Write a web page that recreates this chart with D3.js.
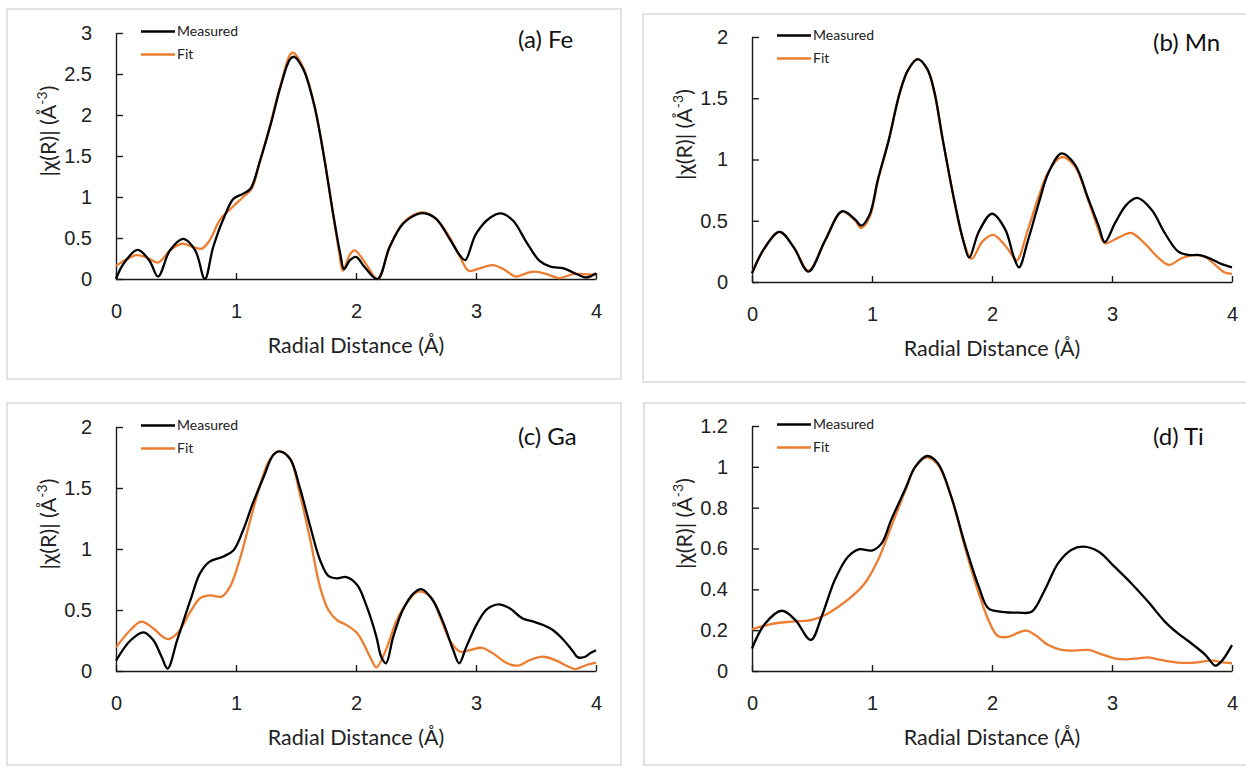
<!DOCTYPE html>
<html lang="en">
<head>
  <meta charset="UTF-8">
  <title>EXAFS fits</title>
  <script src="https://d3js.org/d3.v7.min.js"></script>
  <style>
    body { margin: 0; background: #fff; }
    svg { font-family: Lato, "Open Sans", sans-serif; }
    .axis path, .axis line { stroke: #1a1a1a; stroke-width: 1.4; }
    .axis text { font-size: 20px; fill: #222; }
  </style>
</head>
<body>
<svg id="chart" width="1246" height="769"></svg>
<script>
// data: [R (Å), |χ(R)|]
const feMeasured = [[0,0],[0.06,0.18],[0.18,0.355],[0.28,0.22],[0.35,0.03],[0.45,0.35],[0.56,0.49],[0.66,0.35],[0.74,0],[0.81,0.39],[0.9,0.75],[0.98,0.98],[1.06,1.04],[1.12,1.1],[1.2,1.44],[1.29,1.89],[1.37,2.34],[1.45,2.68],[1.485,2.71],[1.56,2.56],[1.65,2.13],[1.73,1.52],[1.81,0.79],[1.87,0.3],[1.9,0.12],[1.95,0.23],[2.0,0.27],[2.075,0.14],[2.18,0],[2.28,0.39],[2.39,0.67],[2.51,0.79],[2.575,0.8],[2.67,0.73],[2.78,0.49],[2.87,0.28],[2.91,0.23],[3.0,0.55],[3.12,0.75],[3.21,0.8],[3.31,0.71],[3.42,0.45],[3.53,0.22],[3.62,0.15],[3.73,0.13],[3.81,0.08],[3.91,0.02],[3.95,0.03],[4.0,0.07]];
const feFit = [[0,0.16],[0.09,0.24],[0.17,0.29],[0.26,0.26],[0.35,0.2],[0.45,0.35],[0.55,0.43],[0.645,0.39],[0.715,0.37],[0.78,0.47],[0.87,0.73],[0.98,0.89],[1.06,1.0],[1.13,1.1],[1.2,1.44],[1.29,1.91],[1.37,2.36],[1.47,2.76],[1.56,2.58],[1.65,2.14],[1.73,1.52],[1.81,0.78],[1.86,0.32],[1.89,0.1],[1.95,0.3],[1.99,0.35],[2.075,0.2],[2.18,0],[2.28,0.39],[2.39,0.68],[2.51,0.8],[2.575,0.81],[2.67,0.73],[2.78,0.51],[2.87,0.26],[2.94,0.1],[3.03,0.13],[3.14,0.17],[3.23,0.12],[3.33,0.03],[3.42,0.07],[3.49,0.09],[3.59,0.06],[3.69,0.01],[3.81,0.06],[3.89,0.06],[4.0,0.05]];

const mnMeasured = [[0,0.07],[0.1,0.27],[0.23,0.41],[0.35,0.28],[0.47,0.085],[0.61,0.34],[0.75,0.577],[0.86,0.51],[0.91,0.46],[0.98,0.55],[1.05,0.84],[1.14,1.16],[1.23,1.54],[1.3,1.73],[1.38,1.82],[1.46,1.74],[1.52,1.55],[1.59,1.16],[1.69,0.645],[1.76,0.34],[1.81,0.2],[1.89,0.41],[2.0,0.557],[2.11,0.43],[2.18,0.21],[2.225,0.12],[2.3,0.34],[2.39,0.645],[2.47,0.89],[2.58,1.05],[2.69,0.96],[2.8,0.686],[2.89,0.454],[2.94,0.325],[3.025,0.48],[3.12,0.63],[3.21,0.686],[3.33,0.59],[3.44,0.4],[3.55,0.25],[3.64,0.22],[3.73,0.22],[3.83,0.186],[3.91,0.148],[4.0,0.12]];
const mnFit = [[0,0.07],[0.1,0.27],[0.23,0.41],[0.35,0.28],[0.47,0.093],[0.61,0.34],[0.75,0.575],[0.86,0.5],[0.91,0.44],[0.98,0.53],[1.05,0.83],[1.14,1.16],[1.23,1.54],[1.3,1.73],[1.38,1.82],[1.46,1.74],[1.52,1.55],[1.59,1.16],[1.69,0.64],[1.76,0.34],[1.83,0.19],[1.92,0.33],[2.01,0.385],[2.14,0.26],[2.205,0.175],[2.3,0.43],[2.39,0.7],[2.47,0.9],[2.58,1.02],[2.69,0.945],[2.8,0.67],[2.89,0.42],[2.94,0.317],[3.05,0.36],[3.16,0.4],[3.27,0.317],[3.39,0.194],[3.475,0.14],[3.58,0.194],[3.68,0.22],[3.77,0.208],[3.86,0.14],[3.94,0.077],[4.0,0.066]];

const gaMeasured = [[0,0.085],[0.12,0.25],[0.23,0.317],[0.31,0.254],[0.38,0.117],[0.43,0.02],[0.51,0.254],[0.62,0.58],[0.7,0.8],[0.78,0.896],[0.89,0.937],[0.98,0.99],[1.06,1.156],[1.14,1.374],[1.23,1.59],[1.31,1.77],[1.36,1.8],[1.45,1.74],[1.53,1.51],[1.62,1.18],[1.7,0.91],[1.77,0.78],[1.84,0.76],[1.92,0.77],[2.01,0.705],[2.09,0.527],[2.17,0.28],[2.21,0.117],[2.25,0.063],[2.31,0.28],[2.39,0.5],[2.48,0.637],[2.55,0.67],[2.64,0.58],[2.73,0.39],[2.81,0.172],[2.86,0.063],[2.92,0.2],[3.01,0.39],[3.09,0.505],[3.19,0.546],[3.28,0.514],[3.39,0.43],[3.48,0.404],[3.56,0.377],[3.64,0.336],[3.73,0.254],[3.81,0.158],[3.85,0.112],[3.91,0.117],[3.95,0.145],[4.0,0.17]];
const gaFit = [[0,0.194],[0.12,0.336],[0.21,0.404],[0.31,0.35],[0.39,0.28],[0.44,0.262],[0.52,0.32],[0.62,0.486],[0.7,0.596],[0.78,0.62],[0.88,0.61],[0.95,0.69],[1.03,0.91],[1.12,1.24],[1.2,1.52],[1.28,1.73],[1.36,1.8],[1.45,1.74],[1.53,1.46],[1.62,1.07],[1.7,0.69],[1.77,0.5],[1.84,0.418],[1.92,0.377],[2.01,0.31],[2.075,0.2],[2.13,0.09],[2.17,0.03],[2.26,0.2],[2.34,0.418],[2.44,0.58],[2.52,0.65],[2.62,0.61],[2.7,0.445],[2.78,0.254],[2.87,0.158],[2.95,0.172],[3.05,0.19],[3.14,0.145],[3.26,0.063],[3.35,0.044],[3.45,0.09],[3.56,0.117],[3.67,0.085],[3.77,0.036],[3.83,0.016],[3.92,0.049],[4.0,0.068]];

const tiMeasured = [[0,0.11],[0.11,0.233],[0.25,0.295],[0.36,0.25],[0.49,0.152],[0.58,0.266],[0.69,0.446],[0.8,0.56],[0.89,0.596],[1.0,0.59],[1.08,0.625],[1.16,0.74],[1.28,0.895],[1.36,1.0],[1.46,1.053],[1.55,1.017],[1.66,0.854],[1.78,0.61],[1.89,0.413],[1.97,0.307],[2.08,0.29],[2.22,0.286],[2.33,0.29],[2.44,0.397],[2.55,0.527],[2.66,0.593],[2.76,0.609],[2.89,0.584],[3.02,0.511],[3.16,0.43],[3.3,0.34],[3.44,0.242],[3.55,0.184],[3.66,0.136],[3.78,0.078],[3.86,0.026],[3.91,0.046],[4.0,0.127]];
const tiFit = [[0,0.204],[0.16,0.23],[0.33,0.242],[0.5,0.25],[0.61,0.274],[0.72,0.315],[0.83,0.364],[0.94,0.43],[1.05,0.544],[1.16,0.707],[1.28,0.887],[1.36,1.0],[1.46,1.047],[1.55,1.009],[1.66,0.854],[1.78,0.593],[1.89,0.38],[1.97,0.25],[2.05,0.171],[2.14,0.168],[2.22,0.188],[2.29,0.198],[2.36,0.176],[2.47,0.127],[2.58,0.103],[2.69,0.1],[2.8,0.103],[2.91,0.083],[3.02,0.062],[3.11,0.057],[3.22,0.062],[3.3,0.067],[3.41,0.054],[3.55,0.041],[3.69,0.041],[3.83,0.051],[3.94,0.041],[4.0,0.038]];

const xTicks = [0, 1, 2, 3, 4];
const yTicksFe = [0, 0.5, 1, 1.5, 2, 2.5, 3];
const yTicksMn = [0, 0.5, 1, 1.5, 2];
const yTicksGa = [0, 0.5, 1, 1.5, 2];
const yTicksTi = [0, 0.2, 0.4, 0.6, 0.8, 1, 1.2];
const panelLabels = ["(a) Fe", "(b) Mn", "(c) Ga", "(d) Ti"];
const seriesNames = ["Measured", "Fit"];

const colors = { Measured: "#000000", Fit: "#ED7D31" };

// layout of the four panels (frame box, plot area, label spot)
const panels = [
  { box: [7, 9, 614, 370],   plot: [116, 596, 33, 279],  lab: [518, 48],  yTicks: yTicksFe, series: [feMeasured, feFit] },
  { box: [643, 14, 620, 368], plot: [752, 1232, 37, 282], lab: [1153, 51], yTicks: yTicksMn, series: [mnMeasured, mnFit] },
  { box: [7, 403, 614, 362], plot: [116, 596, 427, 671], lab: [518, 445], yTicks: yTicksGa, series: [gaMeasured, gaFit] },
  { box: [644, 403, 620, 362], plot: [752, 1232, 426, 671], lab: [1153, 445], yTicks: yTicksTi, series: [tiMeasured, tiFit] }
];

const svg = d3.select("#chart");
svg.append("rect").attr("width", 1246).attr("height", 769).attr("fill", "#fff");

panels.forEach((p, i) => {
  const [bx, by, bw, bh] = p.box;
  const [left, right, top, bottom] = p.plot;

  svg.append("rect")
    .attr("x", bx).attr("y", by).attr("width", bw).attr("height", bh)
    .attr("fill", "none").attr("stroke", "#d9d9d9").attr("stroke-width", 1.5);

  const x = d3.scaleLinear().domain([0, 4]).range([left, right]);
  const yMax = p.yTicks[p.yTicks.length - 1];
  const y = d3.scaleLinear().domain([0, yMax]).range([bottom, top]);

  const g = svg.append("g");

  g.append("g").attr("class", "axis")
    .attr("transform", `translate(0,${bottom})`)
    .call(d3.axisBottom(x).tickValues(xTicks).tickFormat(d3.format("")).tickSizeInner(-6).tickSizeOuter(0).tickPadding(25));

  g.append("g").attr("class", "axis")
    .attr("transform", `translate(${left},0)`)
    .call(d3.axisLeft(y).tickValues(p.yTicks).tickFormat(d3.format("")).tickSizeInner(-7).tickSizeOuter(0).tickPadding(24));

  const line = d3.line()
    .x(d => x(d[0]))
    .y(d => y(d[1]))
    .curve(d3.curveCatmullRom.alpha(0.5));

  // fit drawn first, measured on top
  [1, 0].forEach(k => {
    g.append("path")
      .datum(p.series[k])
      .attr("d", line)
      .attr("fill", "none")
      .attr("stroke", colors[seriesNames[k]])
      .attr("stroke-width", 2.3)
      .attr("stroke-linejoin", "round");
  });

  // legend
  seriesNames.forEach((name, k) => {
    const ly = top - 1.5 + k * 23;
    g.append("line")
      .attr("x1", left + 25).attr("x2", left + 59)
      .attr("y1", ly).attr("y2", ly)
      .attr("stroke", colors[name]).attr("stroke-width", 2.3);
    g.append("text")
      .attr("x", left + 61).attr("y", ly)
      .attr("dy", "0.35em")
      .attr("font-size", 14).attr("fill", "#222")
      .text(name);
  });

  g.append("text")
    .attr("x", p.lab[0]).attr("y", p.lab[1])
    .attr("font-size", 24).attr("fill", "#111")
    .text(panelLabels[i]);

  g.append("text")
    .attr("x", (left + right) / 2).attr("y", bottom + 66)
    .attr("dy", "0.35em")
    .attr("text-anchor", "middle")
    .attr("font-size", 21.5).attr("fill", "#222")
    .text("Radial Distance (Å)");

  const yt = g.append("text")
    .attr("transform", `translate(${left - 68},${(top + bottom) / 2 - 25}) rotate(-90)`)
    .attr("dy", "0.35em")
    .attr("text-anchor", "middle")
    .attr("font-size", 21.5).attr("fill", "#222");
  yt.append("tspan").text("|χ(R)| (Å");
  yt.append("tspan").attr("font-size", 14).attr("dy", "-0.6em").text("-3");
  yt.append("tspan").attr("dy", "0.4em").text(")");
});
</script>
</body>
</html>
